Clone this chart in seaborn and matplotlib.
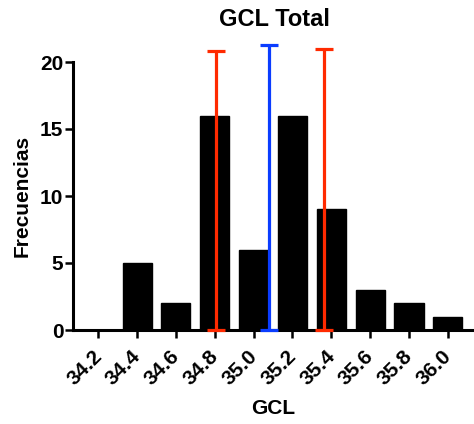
import matplotlib
matplotlib.use("Agg")
import matplotlib.pyplot as plt
import matplotlib.transforms as mtransforms
import seaborn as sns
import pandas as pd

# bins and frequencies
gcl_bins = [34.2, 34.4, 34.6, 34.8, 35.0, 35.2, 35.4, 35.6, 35.8, 36.0]
frecuencias = [0, 5, 2, 16, 6, 16, 9, 3, 2, 1]
tick_labels = ["34.2", "34.4", "34.6", "34.8", "35.0", "35.2", "35.4", "35.6", "35.8", "36.0"]

# reference lines (x position, top)
red_x = [34.805, 35.365]
red_top = [20.8, 21.0]
blue_x = [35.08]
blue_top = [21.3]

sns.set_style("ticks", {"axes.edgecolor": "black", "text.color": "black",
                        "axes.labelcolor": "black", "xtick.color": "black",
                        "ytick.color": "black"})
plt.rcParams['font.family'] = ['Liberation Sans', 'DejaVu Sans']
plt.rcParams['font.weight'] = 'bold'

df = pd.DataFrame({"GCL": gcl_bins, "Frecuencias": frecuencias})

fig = plt.figure(figsize=(4.74, 4.24), dpi=100)
ax = fig.add_axes([73 / 474, 1 - 330 / 424, 1 - 73 / 474, (330 - 62) / 424])

sns.barplot(data=df, x="GCL", y="Frecuencias", native_scale=True, width=0.75,
            color="black", saturation=1, edgecolor="black", ax=ax)

for xs, tops, col in [(red_x, red_top, "#ff2a00"), (blue_x, blue_top, "#0a3cff")]:
    for x, t in zip(xs, tops):
        eb = ax.errorbar([x], [t / 2], yerr=[t / 2], fmt="none", ecolor=col,
                         elinewidth=2.3, capsize=6.5, capthick=2.3, zorder=5)
        for art in eb.get_children():
            art.set_clip_on(False)

ax.set_xlim(34.07, 36.135)
ax.set_ylim(0, 20)
ax.set_yticks([0, 5, 10, 15, 20])
ax.set_xticks(gcl_bins)
ax.set_xticklabels(tick_labels, rotation=45, ha="right", rotation_mode="anchor",
                   fontsize=15, fontweight="bold")
ax.tick_params(axis="y", labelsize=15, width=1.8, length=6, pad=1)
ax.tick_params(axis="x", width=1.8, length=6)
for lab in ax.get_yticklabels():
    lab.set_fontweight("bold")
# nudge rotated labels down-left like the original
shift = mtransforms.ScaledTranslation(-6 / 100, -3 / 100, fig.dpi_scale_trans)
for lab in ax.get_xticklabels():
    lab.set_transform(lab.get_transform() + shift)

sns.despine(ax=ax)
for s in ["left", "bottom"]:
    ax.spines[s].set_linewidth(2.2)

ax.set_xlabel("GCL", fontsize=15, fontweight="bold", labelpad=8)
ax.set_ylabel("Frecuencias", fontsize=15, fontweight="bold", labelpad=6)
fig.suptitle("GCL Total", fontsize=17, fontweight="bold", x=0.578, y=0.98)

fig.savefig("out.png", dpi=100)
